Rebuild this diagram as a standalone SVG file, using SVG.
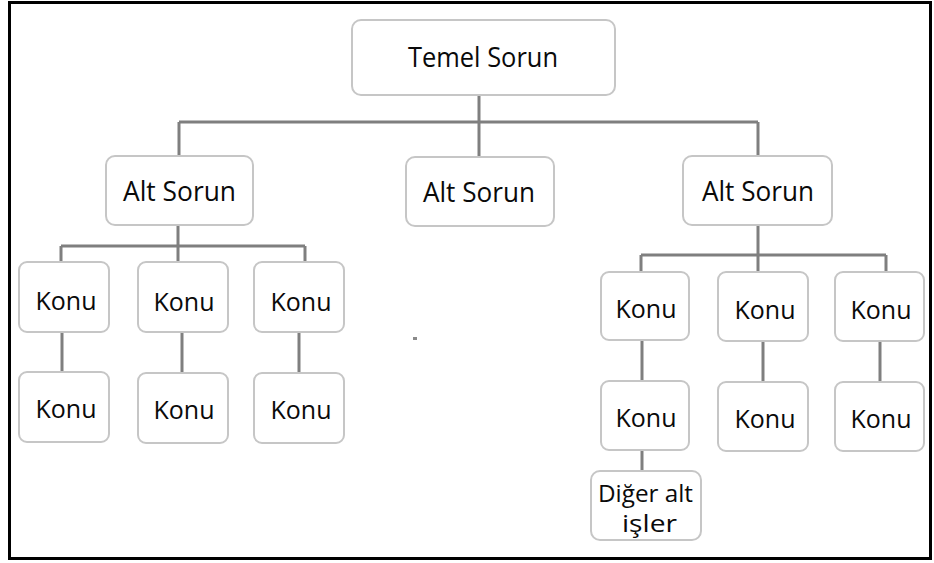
<svg xmlns="http://www.w3.org/2000/svg" width="934" height="563" viewBox="0 0 934 563">
  <style>
    .box { fill: #ffffff; stroke: #c6c6c6; stroke-width: 2; }
    .lbl { font-family: "Open Sans", "Noto Sans", "Liberation Sans", sans-serif; fill: #0a0a0a; text-anchor: middle; }
    .big { font-size: 28px; }
    .mid { font-size: 27px; }
    .sm { font-size: 26px; }
    .xs { font-size: 23px; }
    .wire { stroke: #7f7f7f; stroke-width: 3; fill: none; }
  </style>

  <rect x="0" y="0" width="934" height="563" fill="#ffffff"/>
  <!-- outer frame -->
  <rect x="9.5" y="2.5" width="921" height="556" fill="none" stroke="#000000" stroke-width="3"/>

  <!-- connectors -->
  <g id="connectors" class="wire">
    <line x1="479" y1="95" x2="479" y2="157"/>
    <line x1="179" y1="122" x2="758" y2="122"/>
    <line x1="179" y1="122" x2="179" y2="156"/>
    <line x1="758" y1="122" x2="758" y2="156"/>

    <line x1="178" y1="225" x2="178" y2="262"/>
    <line x1="61" y1="246" x2="305" y2="246"/>
    <line x1="61" y1="246" x2="61" y2="262"/>
    <line x1="305" y1="246" x2="305" y2="262"/>
    <line x1="62" y1="332" x2="62" y2="372"/>
    <line x1="182" y1="332" x2="182" y2="372"/>
    <line x1="299" y1="332" x2="299" y2="372"/>

    <line x1="758" y1="225" x2="758" y2="272"/>
    <line x1="641" y1="255" x2="886" y2="255"/>
    <line x1="641" y1="255" x2="641" y2="272"/>
    <line x1="886" y1="255" x2="886" y2="272"/>
    <line x1="642" y1="340" x2="642" y2="381"/>
    <line x1="763" y1="340" x2="763" y2="381"/>
    <line x1="880" y1="340" x2="880" y2="381"/>
    <line x1="642" y1="450" x2="642" y2="471"/>
  </g>

  <!-- root -->
  <g id="temel-sorun">
    <rect class="box" x="352" y="20" width="263" height="75" rx="9"/>
    <text class="lbl big" x="483" y="67" textLength="150" lengthAdjust="spacingAndGlyphs">Temel Sorun</text>
  </g>

  <!-- second level -->
  <g id="alt-sorun-1">
    <rect class="box" x="106" y="156" width="147" height="69" rx="9"/>
    <text class="lbl mid" x="179.5" y="201" textLength="113" lengthAdjust="spacingAndGlyphs">Alt Sorun</text>
  </g>
  <g id="alt-sorun-2">
    <rect class="box" x="406" y="157" width="148" height="69" rx="9"/>
    <text class="lbl mid" x="479" y="202" textLength="112" lengthAdjust="spacingAndGlyphs">Alt Sorun</text>
  </g>
  <g id="alt-sorun-3">
    <rect class="box" x="683" y="156" width="149" height="69" rx="9"/>
    <text class="lbl mid" x="758" y="201" textLength="112" lengthAdjust="spacingAndGlyphs">Alt Sorun</text>
  </g>

  <!-- left branch topics -->
  <g id="konu-l1a">
    <rect class="box" x="19" y="262" width="90" height="70" rx="8"/>
    <text class="lbl sm" x="66" y="310" textLength="61" lengthAdjust="spacingAndGlyphs">Konu</text>
  </g>
  <g id="konu-l2a">
    <rect class="box" x="138" y="262" width="90" height="70" rx="8"/>
    <text class="lbl sm" x="184" y="311" textLength="61" lengthAdjust="spacingAndGlyphs">Konu</text>
  </g>
  <g id="konu-l3a">
    <rect class="box" x="254" y="262" width="90" height="70" rx="8"/>
    <text class="lbl sm" x="301" y="311" textLength="61" lengthAdjust="spacingAndGlyphs">Konu</text>
  </g>
  <g id="konu-l1b">
    <rect class="box" x="19" y="372" width="90" height="70" rx="8"/>
    <text class="lbl sm" x="66" y="418" textLength="61" lengthAdjust="spacingAndGlyphs">Konu</text>
  </g>
  <g id="konu-l2b">
    <rect class="box" x="138" y="373" width="90" height="70" rx="8"/>
    <text class="lbl sm" x="184" y="419" textLength="61" lengthAdjust="spacingAndGlyphs">Konu</text>
  </g>
  <g id="konu-l3b">
    <rect class="box" x="254" y="373" width="90" height="70" rx="8"/>
    <text class="lbl sm" x="301" y="419" textLength="61" lengthAdjust="spacingAndGlyphs">Konu</text>
  </g>

  <!-- right branch topics -->
  <g id="konu-r1a">
    <rect class="box" x="601" y="272" width="88" height="68" rx="8"/>
    <text class="lbl sm" x="646" y="318" textLength="61" lengthAdjust="spacingAndGlyphs">Konu</text>
  </g>
  <g id="konu-r2a">
    <rect class="box" x="718" y="272" width="90" height="69" rx="8"/>
    <text class="lbl sm" x="765" y="319" textLength="61" lengthAdjust="spacingAndGlyphs">Konu</text>
  </g>
  <g id="konu-r3a">
    <rect class="box" x="835" y="272" width="89" height="69" rx="8"/>
    <text class="lbl sm" x="881" y="319" textLength="61" lengthAdjust="spacingAndGlyphs">Konu</text>
  </g>
  <g id="konu-r1b">
    <rect class="box" x="601" y="381" width="88" height="69" rx="8"/>
    <text class="lbl sm" x="646" y="427" textLength="61" lengthAdjust="spacingAndGlyphs">Konu</text>
  </g>
  <g id="konu-r2b">
    <rect class="box" x="718" y="382" width="90" height="69" rx="8"/>
    <text class="lbl sm" x="765" y="428" textLength="61" lengthAdjust="spacingAndGlyphs">Konu</text>
  </g>
  <g id="konu-r3b">
    <rect class="box" x="835" y="382" width="89" height="69" rx="8"/>
    <text class="lbl sm" x="881" y="428" textLength="61" lengthAdjust="spacingAndGlyphs">Konu</text>
  </g>

  <!-- further sub-tasks -->
  <g id="diger-alt-isler">
    <rect class="box" x="591" y="471" width="110" height="69" rx="9"/>
    <text class="lbl xs" x="645.5" y="502" textLength="95" lengthAdjust="spacingAndGlyphs">Diğer alt</text>
    <text class="lbl xs" x="649.5" y="532" textLength="55" lengthAdjust="spacingAndGlyphs">işler</text>
  </g>

  <!-- stray speck -->
  <rect x="413" y="337" width="4" height="3" fill="#8a8a8a"/>
</svg>
